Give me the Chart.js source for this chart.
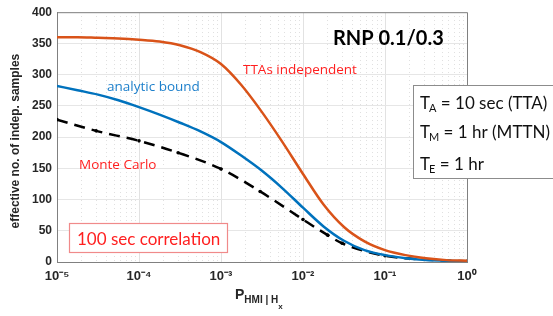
<!DOCTYPE html>
<html>
<head>
<meta charset="utf-8">
<script src="https://cdn.jsdelivr.net/npm/chart.js@4/dist/chart.umd.min.js"></script>
<style>
  html, body { margin: 0; padding: 0; background: #ffffff; }
  #c { display: block; }
</style>
</head>
<body>
<canvas id="c" width="553" height="316"></canvas>
<script>
// ---- data ----
const pGrid = [1e-5, 1.78e-5, 3.16e-5, 5.62e-5, 1e-4, 1.78e-4, 3.16e-4, 5.62e-4,
               1e-3, 1.78e-3, 3.16e-3, 5.62e-3, 1e-2, 1.78e-2, 3.16e-2, 5.62e-2,
               1e-1, 1.78e-1, 3.16e-1, 5.62e-1, 1];
const ttaIndependent = [360, 360, 359, 358, 356, 353, 347, 336, 317, 283, 240, 192,
                        141, 92, 56, 33, 19, 11, 6, 3, 2];
const analyticBound = [282, 275, 268, 259, 248, 236, 223, 209, 192, 170, 146, 118,
                       87, 57, 34, 19, 11, 6, 3, 2, 1];
const mcP = [1e-5, 3e-5, 1e-4, 3e-4, 1e-3, 3e-3, 1e-2, 2e-2, 3e-2, 1e-1, 3e-1, 1];
const monteCarlo = [228, 210, 194, 175, 149, 113, 68, 43, 30, 10, 4, 1];

const xTickValues = [1e-5, 1e-4, 1e-3, 1e-2, 1e-1, 1];
const xTickLabels = ['10\u207B\u2075', '10\u207B\u2074', '10\u207B\u00B3', '10\u207B\u00B2', '10\u207B\u00B9', '10\u2070'];
const yTicks = [0, 50, 100, 150, 200, 250, 300, 350, 400];

const ORANGE = '#D95319';
const BLUE = '#0072BD';
const RED = '#FF1F1F';

const toXY = (xs, ys) => xs.map((x, i) => ({ x: x, y: ys[i] }));

const decorPlugin = {
  id: 'decor',
  afterDatasetsDraw(chart) {
    const ctx = chart.ctx;
    const a = chart.chartArea;
    ctx.save();
    ctx.strokeStyle = '#808080';
    ctx.lineWidth = 1;
    ctx.beginPath();
    ctx.moveTo(a.left, a.top + 0.5);
    ctx.lineTo(a.right + 0.5, a.top + 0.5);
    ctx.lineTo(a.right + 0.5, a.bottom);
    ctx.stroke();
    ctx.restore();
  },
  afterDraw(chart) {
    const ctx = chart.ctx;
    const a = chart.chartArea;
    ctx.save();
    ctx.textBaseline = 'alphabetic';
    ctx.textAlign = 'left';

    // y title
    ctx.save();
    ctx.translate(19, (a.top + a.bottom) / 2 + 4);
    ctx.rotate(-Math.PI / 2);
    ctx.textAlign = 'center';
    ctx.fillStyle = '#262626';
    ctx.font = 'bold 12px "Liberation Sans", Arial, sans-serif';
    ctx.fillText('effective no. of indep. samples', 0, 0);
    ctx.restore();

    // x title P_{HMI | H_x}
    ctx.fillStyle = '#262626';
    let x = 235;
    ctx.font = 'bold 14px "Liberation Sans", Arial, sans-serif';
    ctx.fillText('P', x, 299);
    x += ctx.measureText('P').width;
    ctx.font = 'bold 10px "Liberation Sans", Arial, sans-serif';
    ctx.fillText('HMI | H', x, 303);
    x += ctx.measureText('HMI | H').width;
    ctx.font = 'bold 8px "Liberation Sans", Arial, sans-serif';
    ctx.fillText('x', x, 309);

    // annotations
    ctx.fillStyle = '#000000';
    ctx.font = 'bold 20px Lato, "Open Sans", sans-serif';
    ctx.fillText('RNP 0.1/0.3', 333, 45);

    ctx.fillStyle = RED;
    ctx.font = '13.5px "Open Sans", sans-serif';
    ctx.fillText('TTAs independent', 243, 74);
    ctx.fillText('Monte Carlo', 79, 169);

    ctx.fillStyle = '#1C7FCB';
    ctx.fillText('analytic bound', 107, 91);

    // 100 sec correlation box
    ctx.fillStyle = '#ffffff';
    ctx.fillRect(69.5, 223.5, 158, 29);
    ctx.strokeStyle = '#F08A8A';
    ctx.lineWidth = 1.2;
    ctx.strokeRect(69.5, 223.5, 158, 29);
    ctx.fillStyle = RED;
    ctx.font = '17px Lato, "Open Sans", sans-serif';
    ctx.fillText('100 sec correlation', 77, 245);

    // parameter box
    ctx.fillStyle = '#ffffff';
    ctx.fillRect(413.5, 85.5, 150, 93);
    ctx.strokeStyle = '#8C8C8C';
    ctx.lineWidth = 1;
    ctx.strokeRect(413.5, 85.5, 150, 93);
    ctx.fillStyle = '#111111';
    const rows = [['A', ' = 10 sec (TTA)', 109], ['M', ' = 1 hr (MTTN)', 138], ['E', ' = 1 hr', 170]];
    rows.forEach(r => {
      let px = 420;
      ctx.font = '17px Lato, "Open Sans", sans-serif';
      ctx.fillText('T', px, r[2]);
      px += ctx.measureText('T').width - 1;
      ctx.font = '11px Lato, "Open Sans", sans-serif';
      ctx.fillText(r[0], px, r[2] + 3);
      px += ctx.measureText(r[0]).width;
      ctx.font = '17px Lato, "Open Sans", sans-serif';
      ctx.fillText(r[1], px, r[2]);
    });
    ctx.restore();
  }
};

new Chart(document.getElementById('c'), {
  type: 'line',
  data: {
    datasets: [
      {
        label: 'TTAs independent',
        data: toXY(pGrid, ttaIndependent),
        borderColor: ORANGE,
        borderWidth: 2.5,
        pointRadius: 0,
        cubicInterpolationMode: 'monotone',
        fill: false,
        order: 1
      },
      {
        label: 'analytic bound',
        data: toXY(pGrid, analyticBound),
        borderColor: BLUE,
        borderWidth: 2.5,
        pointRadius: 0,
        cubicInterpolationMode: 'monotone',
        fill: false,
        order: 2
      },
      {
        label: 'Monte Carlo',
        data: toXY(mcP, monteCarlo),
        borderColor: '#000000',
        backgroundColor: '#000000',
        borderWidth: 2.5,
        borderDash: [11, 7],
        pointRadius: 1.8,
        pointBorderWidth: 0,
        pointBackgroundColor: '#000000',
        cubicInterpolationMode: 'monotone',
        fill: false,
        order: 3
      }
    ]
  },
  options: {
    responsive: false,
    animation: false,
    devicePixelRatio: 1,
    layout: { padding: { left: 0, right: 86, top: 8, bottom: 0 } },
    plugins: { legend: { display: false }, tooltip: { enabled: false } },
    scales: {
      x: {
        type: 'logarithmic',
        position: 'bottom',
        min: 1e-5,
        max: 1,
        afterBuildTicks: s => { s.ticks = xTickValues.map(v => ({ value: v })); },
        afterFit: s => { s.height = 54; },
        grid: { color: '#E2E2E2', lineWidth: 1, drawTicks: false },
        border: { color: '#808080', width: 1 },
        ticks: {
          autoSkip: false,
          maxRotation: 0,
          padding: 7,
          color: '#262626',
          font: { family: '"Liberation Sans", Arial, sans-serif', size: 13, weight: 'bold' },
          callback: (v, i) => xTickLabels[i]
        }
      },
      xMinor: {
        type: 'logarithmic',
        position: 'top',
        min: 1e-5,
        max: 1,
        afterBuildTicks: s => {
          const t = [];
          for (let d = 0; d < xTickValues.length - 1; d++) {
            for (let m = 2; m <= 9; m++) t.push({ value: m * xTickValues[d] });
          }
          s.ticks = t;
        },
        afterFit: s => { s.height = 0; },
        grid: { color: '#E0E0E0', lineWidth: 1, drawTicks: false },
        border: { display: false, dash: [1, 3] },
        ticks: { display: false }
      },
      y: {
        type: 'linear',
        min: 0,
        max: 400,
        afterBuildTicks: s => { s.ticks = yTicks.map(v => ({ value: v })); },
        afterFit: s => { s.width = 57; },
        grid: { color: '#E6E6E6', lineWidth: 1, drawTicks: false },
        border: { color: '#808080', width: 1 },
        ticks: {
          padding: 5,
          color: '#262626',
          font: { family: '"Liberation Sans", Arial, sans-serif', size: 12, weight: 'bold' }
        }
      }
    }
  },
  plugins: [decorPlugin]
});
</script>
</body>
</html>
